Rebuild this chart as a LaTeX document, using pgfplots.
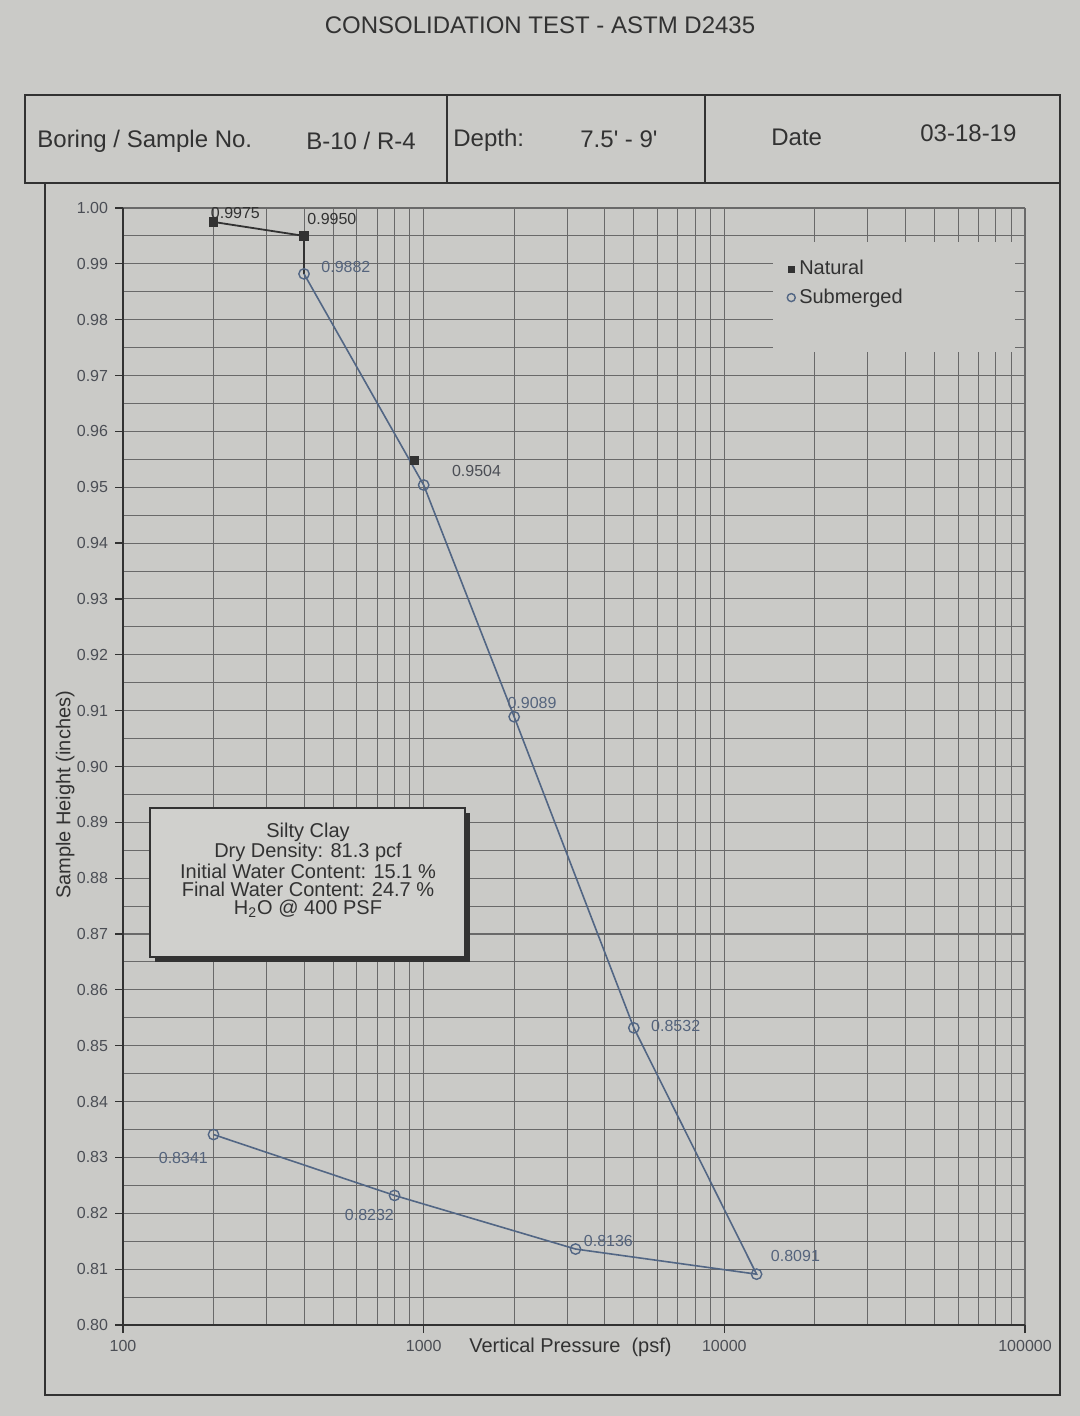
\documentclass[border=0pt]{standalone}
\usepackage{fontspec}
\setmainfont{Liberation Sans}
\usepackage{pgfplots}
\pgfplotsset{compat=1.18}
\definecolor{bg}{RGB}{202,202,199}
\definecolor{boxbg}{RGB}{208,208,205}
\definecolor{gridc}{RGB}{105,105,105}
\definecolor{sub}{RGB}{82,102,132}
\definecolor{nat}{RGB}{50,50,50}
\definecolor{txt}{RGB}{50,50,50}
\definecolor{lab}{RGB}{75,78,85}
\definecolor{sublab}{RGB}{85,100,125}
\begin{document}
\begin{tikzpicture}
\fill[bg] (0,0) rectangle (540bp,708bp);
\begin{scope}[x=0.5bp,y=-0.5bp,shift={(0,708bp)}]
  \draw[nat, line width=1.4bp] (25,95) rectangle (1060,183);
  \draw[nat, line width=1.4bp] (447,95) -- (447,183) (705,95) -- (705,183);
  \draw[nat, line width=1.2bp] (45,183) -- (45,1395) -- (1060,1395) -- (1060,183);
  \node[txt, font=\fontsize{12bp}{14bp}\selectfont] at (540,25) {CONSOLIDATION TEST - ASTM D2435};
  \begin{scope}[every node/.style={txt, anchor=west, inner sep=0pt, font=\fontsize{12bp}{14bp}\selectfont}]
    \node at (37,141) {Boring / Sample No.};
    \node at (306,141) {B-10 / R-4};
    \node at (453,140) {Depth:};
    \node at (580,139) {7.5\textquotesingle{} - 9\textquotesingle};
    \node at (771,137) {Date};
    \node at (920,133) {03-18-19};
  \end{scope}
\end{scope}
\begin{axis}[
  at={(61.5bp,45.5bp)}, anchor=south west,
  scale only axis, width=451bp, height=558.5bp,
  xmode=log, xmin=100, xmax=100000,
  ymin=0.80, ymax=1.00,
  xtick={100,1000,10000,100000},
  xticklabels={100,1000,10000,100000},
  ytick={0.80,0.81,0.82,0.83,0.84,0.85,0.86,0.87,0.88,0.89,0.90,0.91,0.92,0.93,0.94,0.95,0.96,0.97,0.98,0.99,1.00},
  minor ytick={0.805,0.815,0.825,0.835,0.845,0.855,0.865,0.875,0.885,0.895,0.905,0.915,0.925,0.935,0.945,0.955,0.965,0.975,0.985,0.995},
  yticklabel style={/pgf/number format/.cd, fixed, fixed zerofill, precision=2},
  /pgf/number format/assume math mode=true,
  grid=both,
  major grid style={gridc, line width=0.55bp},
  minor grid style={gridc, line width=0.5bp},
  axis lines=left,
  axis line style={-, nat, line width=1bp},
  tick align=outside, major tick length=4bp, minor tick length=0pt,
  tick style={nat, line width=0.6bp},
  ticklabel style={font=\fontsize{8bp}{9bp}\selectfont, color=lab},
  xlabel={Vertical Pressure\ \ (psf)},
  xlabel style={at={(axis description cs:0.496,0)}, anchor=center, yshift=-11bp, font=\fontsize{10bp}{12bp}\selectfont, color=txt},
  ylabel={Sample Height (inches)},
  ylabel style={at={(axis description cs:-0.064,0.4745)}, anchor=center, font=\fontsize{10bp}{12bp}\selectfont, color=txt},
  legend style={at={(rel axis cs:0.736,0.957)}, anchor=north west, draw=none, fill=none, inner sep=0pt,
    font=\fontsize{10bp}{12bp}\selectfont, text=txt, row sep=1.5bp},
  legend cell align=left,
  legend image code/.code={\draw[#1] plot coordinates {(0.1cm,0cm)};},
]
\fill[bg] (rel axis cs:0.7206,0.8711) rectangle (rel axis cs:0.9889,0.9696);
\addlegendimage{only marks, mark=square*, nat, mark size=1.4bp}
\addlegendentry{Natural}
\addlegendimage{only marks, mark=o, sub, mark size=2bp, line width=0.7bp}
\addlegendentry{Submerged}
\addplot[nat, line width=0.9bp, mark=square*, mark size=2bp, mark indices={1,2}, forget plot]
  coordinates {(200,0.9975) (400,0.9950) (400,0.9882)};
\addplot[sub, line width=0.8bp, mark=o, mark size=2.6bp, mark options={line width=0.7bp}, forget plot]
  coordinates {(400,0.9882) (1000,0.9504) (2000,0.9089) (5000,0.8532) (12800,0.8091) (3200,0.8136) (800,0.8232) (200,0.8341)};
\addplot[only marks, mark=square*, nat, mark size=2bp, forget plot] coordinates {(930,0.9548)};
\begin{scope}[every node/.style={inner sep=0pt, font=\fontsize{8bp}{9bp}\selectfont}]
  \node[nat, anchor=south west, xshift=-1.5bp, yshift=1.5bp] at (axis cs:200,0.9975) {0.9975};
  \node[nat, anchor=south west, xshift=1.5bp, yshift=5.5bp] at (axis cs:400,0.9950) {0.9950};
  \node[sublab, anchor=west, xshift=8.5bp, yshift=3.5bp] at (axis cs:400,0.9882) {0.9882};
  \node[lab, anchor=west, xshift=14bp, yshift=7bp] at (axis cs:1000,0.9504) {0.9504};
  \node[sublab, anchor=west, xshift=-3.5bp, yshift=7bp] at (axis cs:2000,0.9089) {0.9089};
  \node[sublab, anchor=west, xshift=8.5bp, yshift=1bp] at (axis cs:5000,0.8532) {0.8532};
  \node[sublab, anchor=west, xshift=7bp, yshift=9bp] at (axis cs:12800,0.8091) {0.8091};
  \node[sublab, anchor=west, xshift=4bp, yshift=4bp] at (axis cs:3200,0.8136) {0.8136};
  \node[sublab, anchor=west, xshift=-25bp, yshift=-10bp] at (axis cs:800,0.8232) {0.8232};
  \node[sublab, anchor=west, xshift=-27.5bp, yshift=-11.5bp] at (axis cs:200,0.8341) {0.8341};
\end{scope}
\end{axis}
\begin{scope}[x=0.5bp,y=-0.5bp,shift={(0,708bp)}]
  \fill[nat] (155,813) rectangle (470,962);
  \fill[boxbg] (150,808) rectangle (465,957);
  \draw[nat, line width=0.6bp] (150,808) rectangle (465,957);
  \node[txt, align=center, inner sep=0pt, font=\fontsize{10bp}{9bp}\selectfont] at (308,870)
    {Silty Clay\\Dry Density: 81.3 pcf\\Initial Water Content: 15.1 \%\\Final Water Content: 24.7 \%\\H\textsubscript{2}O @ 400 PSF};
\end{scope}
\end{tikzpicture}
\end{document}
